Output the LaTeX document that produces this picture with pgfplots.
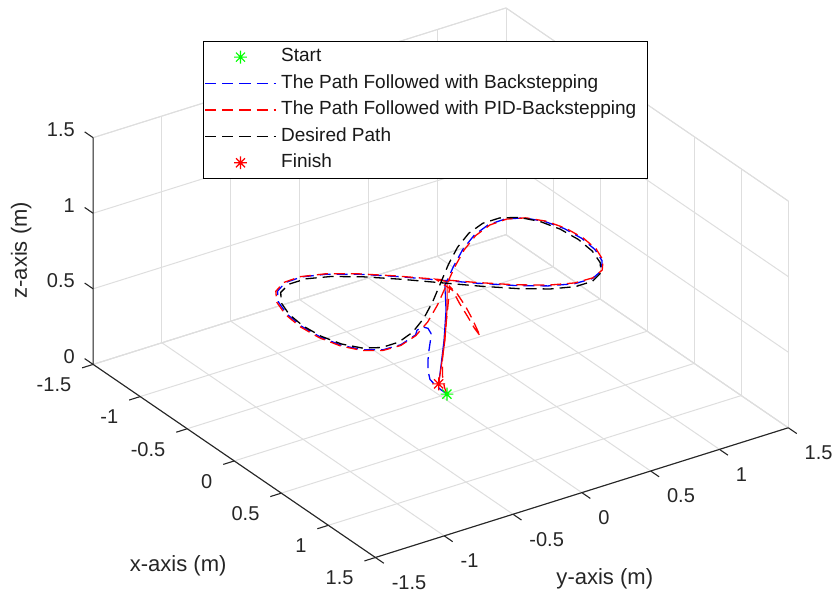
\documentclass[border=0pt]{standalone}
\usepackage{fontspec}
\setmainfont{Liberation Sans}
\usepackage{pgfplots}
\pgfplotsset{compat=1.18}
\usepackage{pgfplotstable}

\tikzset{
  tl/.style={font=\fontsize{10}{12}\selectfont, text=black!85, inner sep=0pt},
  al/.style={font=\fontsize{11}{13}\selectfont, text=black!85, inner sep=0pt},
  tk/.style={draw=black!85, line width=0.55pt},
  bsline/.style={draw=blue, color=blue, dash pattern=on 5.5pt off 3pt, line width=0.65pt},
  pidline/.style={draw=red, color=red, dash pattern=on 5.5pt off 3pt, line width=0.65pt},
  desline/.style={draw=black, color=black, dash pattern=on 5.5pt off 3pt, line width=0.65pt},
}

\pgfdeclareplotmark{mstar}{%
  \pgfpathmoveto{\pgfqpoint{-\pgfplotmarksize}{0pt}}%
  \pgfpathlineto{\pgfqpoint{\pgfplotmarksize}{0pt}}%
  \pgfpathmoveto{\pgfqpoint{0pt}{-\pgfplotmarksize}}%
  \pgfpathlineto{\pgfqpoint{0pt}{\pgfplotmarksize}}%
  \pgfpathmoveto{\pgfqpoint{-0.7071\pgfplotmarksize}{-0.7071\pgfplotmarksize}}%
  \pgfpathlineto{\pgfqpoint{0.7071\pgfplotmarksize}{0.7071\pgfplotmarksize}}%
  \pgfpathmoveto{\pgfqpoint{-0.7071\pgfplotmarksize}{0.7071\pgfplotmarksize}}%
  \pgfpathlineto{\pgfqpoint{0.7071\pgfplotmarksize}{-0.7071\pgfplotmarksize}}%
  \pgfusepathqstroke}

% Backstepping path (takeoff + lap)
\pgfplotstableread{
x y z
0 0.045 0
-0.024 0.0146 0.03
-0.049 -0.0119 0.06
-0.053 -0.0419 0.1
-0.043 -0.0633 0.17
-0.053 -0.0565 0.23
-0.0436 -0.0556 0.3
-0.0486 -0.0413 0.36
-0.041 -0.0428 0.41
0.0404 -0.1204 0.5
0.167 -0.2469 0.6
0.3468 -0.4098 0.7
0.4720 -0.5050 0.75
0.5269 -0.6490 0.75
0.5213 -0.7735 0.75
0.4555 -0.8745 0.75
0.3368 -0.9490 0.75
0.1788 -0.9945 0.75
0 -1.010 0.75
-0.1788 -0.9945 0.75
-0.3368 -0.9490 0.75
-0.4555 -0.8745 0.75
-0.5213 -0.7735 0.75
-0.5269 -0.6490 0.75
-0.4720 -0.5050 0.75
-0.3637 -0.3455 0.75
-0.2153 -0.1753 0.75
-0.045 0 0.75
0.1267 0.1779 0.75
0.2791 0.3506 0.75
0.3940 0.5125 0.75
0.4579 0.6589 0.75
0.4635 0.7852 0.75
0.4105 0.8877 0.75
0.3060 0.9632 0.75
0.1632 1.0094 0.75
0 1.025 0.75
-0.1632 1.0094 0.75
-0.3060 0.9632 0.75
-0.4105 0.8877 0.75
-0.4635 0.7852 0.75
-0.4579 0.6589 0.75
-0.3940 0.5125 0.75
-0.2791 0.3506 0.75
-0.1267 0.1779 0.75
0.045 0 0.75
}\bsdata
\pgfplotstableread{
x y z
0.045 0 0.75
-0.0107 0.0455 0.55
-0.0195 0.037 0.35
-0.0206 0.0159 0.19
0 -0.015 0.085
}\bsland

% PID-Backstepping path (takeoff + hook + lap)
\pgfplotstableread{
x y z
0 0.045 0
-0.0158 0.038 0.04
-0.0216 0.0275 0.12
-0.0097 0.0194 0.24
-0.0017 0.0285 0.36
0.0011 0.041 0.49
0.0038 0.0538 0.62
0.0027 0.0618 0.71
0.1307 0.0325 0.72
0.2534 0.0068 0.7
0.3834 -0.0312 0.68
0.485 -0.0643 0.66
0.559 -0.093 0.66
0.502 -0.0977 0.69
0.3667 -0.0561 0.7
0.2335 -0.0233 0.72
0.1037 0.0145 0.74
-0.055 0 0.75
0.1168 0.1797 0.75
0.2697 0.3540 0.75
0.3854 0.5175 0.75
0.4503 0.6653 0.75
0.4570 0.7928 0.75
0.4055 0.8963 0.75
0.3026 0.9726 0.75
0.1615 1.0193 0.75
0 1.035 0.75
-0.1615 1.0193 0.75
-0.3026 0.9726 0.75
-0.4055 0.8963 0.75
-0.4570 0.7928 0.75
-0.4503 0.6653 0.75
-0.3854 0.5175 0.75
-0.2697 0.3540 0.75
-0.1168 0.1797 0.75
0.055 0 0.75
0.2252 -0.1770 0.75
0.3731 -0.3489 0.75
0.4806 -0.5100 0.75
0.5345 -0.6557 0.75
0.5278 -0.7813 0.75
0.4605 -0.8833 0.75
0.3402 -0.9585 0.75
0.1805 -1.0045 0.75
0 -1.020 0.75
-0.1805 -1.0045 0.75
-0.3402 -0.9585 0.75
-0.4605 -0.8833 0.75
-0.5278 -0.7813 0.75
-0.5345 -0.6557 0.75
-0.4806 -0.5100 0.75
-0.3731 -0.3489 0.75
-0.2252 -0.1770 0.75
-0.055 0 0.75
0.01 0.04 0.75
}\piddata
\pgfplotstableread{
x y z
0.01 0.04 0.75
-0.0073 0.0505 0.55
-0.0161 0.042 0.35
-0.0189 0.0184 0.19
0 -0.015 0.085
}\pidland

% Desired path
\pgfplotstableread{
x y z
0 0 0.75
0.1710 0.1736 0.75
0.3214 0.3420 0.75
0.4330 0.5 0.75
0.4924 0.6428 0.75
0.4924 0.7660 0.75
0.4330 0.8660 0.75
0.3214 0.9397 0.75
0.1710 0.9848 0.75
0 1 0.75
-0.1710 0.9848 0.75
-0.3214 0.9397 0.75
-0.4330 0.8660 0.75
-0.4924 0.7660 0.75
-0.4924 0.6428 0.75
-0.4330 0.5 0.75
-0.3214 0.3420 0.75
-0.1710 0.1736 0.75
0 0 0.75
0.1710 -0.1736 0.75
0.3214 -0.3420 0.75
0.4330 -0.5 0.75
0.4924 -0.6428 0.75
0.4924 -0.7660 0.75
0.4330 -0.8660 0.75
0.3214 -0.9397 0.75
0.1710 -0.9848 0.75
0 -1 0.75
-0.1710 -0.9848 0.75
-0.3214 -0.9397 0.75
-0.4330 -0.8660 0.75
-0.4924 -0.7660 0.75
-0.4924 -0.6428 0.75
-0.4330 -0.5 0.75
-0.3214 -0.3420 0.75
-0.1710 -0.1736 0.75
0 0 0.75
}\desdata

\begin{document}
\begin{tikzpicture}
\begin{axis}[
  x={(47pt,-32.15pt)}, y={(68.75pt,21.6pt)}, z={(0pt,75.5pt)},
  xmin=-1.5, xmax=1.5, ymin=-1.5, ymax=1.5, zmin=0, zmax=1.5,
  xtick={-1.5,-1,-0.5,0,0.5,1,1.5},
  ytick={-1.5,-1,-0.5,0,0.5,1,1.5},
  ztick={0,0.5,1,1.5},
  xticklabels={}, yticklabels={}, zticklabels={},
  clip=false,
  grid=major,
  major grid style={black!13, line width=0.5pt},
  axis line style={black!13, line width=0.5pt},
  tick style={draw=none},
  legend cell align=left,
  legend image code/.code={\draw[mark repeat=2,mark phase=2,#1] plot coordinates {(0pt,0pt) (17.5pt,0pt) (35pt,0pt)};},
  legend style={at={(0.1585,0.94)}, anchor=north west, draw, line width=0.5pt,
    fill=white, font=\fontsize{9.5}{11}\selectfont,
    inner xsep=0.5pt, inner ysep=3.15pt, row sep=3.8pt,
    nodes={inner sep=0pt, text height=7pt, text depth=2.4pt, text=black!90},
    /tikz/every odd column/.append style={column sep=2.5pt}},
]
% axis lines
\draw[tk] (axis cs:-1.5,-1.5,1.5) -- (axis cs:-1.5,-1.5,0) -- (axis cs:1.5,-1.5,0) -- (axis cs:1.5,1.5,0);
% x ticks
\draw[tk] (axis cs:-1.5,-1.5,0) -- (axis cs:-1.5,-1.58,0);
\draw[tk] (axis cs:-1,-1.5,0) -- (axis cs:-1,-1.58,0);
\draw[tk] (axis cs:-0.5,-1.5,0) -- (axis cs:-0.5,-1.58,0);
\draw[tk] (axis cs:0,-1.5,0) -- (axis cs:0,-1.58,0);
\draw[tk] (axis cs:0.5,-1.5,0) -- (axis cs:0.5,-1.58,0);
\draw[tk] (axis cs:1,-1.5,0) -- (axis cs:1,-1.58,0);
\draw[tk] (axis cs:1.5,-1.5,0) -- (axis cs:1.5,-1.58,0);
% y ticks
\draw[tk] (axis cs:1.5,-1.5,0) -- (axis cs:1.59,-1.5,0);
\draw[tk] (axis cs:1.5,-1,0) -- (axis cs:1.59,-1,0);
\draw[tk] (axis cs:1.5,-0.5,0) -- (axis cs:1.59,-0.5,0);
\draw[tk] (axis cs:1.5,0,0) -- (axis cs:1.59,0,0);
\draw[tk] (axis cs:1.5,0.5,0) -- (axis cs:1.59,0.5,0);
\draw[tk] (axis cs:1.5,1,0) -- (axis cs:1.59,1,0);
\draw[tk] (axis cs:1.5,1.5,0) -- (axis cs:1.59,1.5,0);
% z ticks
\draw[tk] (axis cs:-1.5,-1.5,0) -- (axis cs:-1.59,-1.5,0);
\draw[tk] (axis cs:-1.5,-1.5,0.5) -- (axis cs:-1.59,-1.5,0.5);
\draw[tk] (axis cs:-1.5,-1.5,1) -- (axis cs:-1.59,-1.5,1);
\draw[tk] (axis cs:-1.5,-1.5,1.5) -- (axis cs:-1.59,-1.5,1.5);
% x tick labels
\node[tl, anchor=east, xshift=-10.75pt, yshift=-10.25pt] at (axis cs:-1.5,-1.5,0) {-1.5};
\node[tl, anchor=east, xshift=-10.75pt, yshift=-10.25pt] at (axis cs:-1,-1.5,0) {-1};
\node[tl, anchor=east, xshift=-10.75pt, yshift=-10.25pt] at (axis cs:-0.5,-1.5,0) {-0.5};
\node[tl, anchor=east, xshift=-10.75pt, yshift=-10.25pt] at (axis cs:0,-1.5,0) {0};
\node[tl, anchor=east, xshift=-10.75pt, yshift=-10.25pt] at (axis cs:0.5,-1.5,0) {0.5};
\node[tl, anchor=east, xshift=-10.75pt, yshift=-10.25pt] at (axis cs:1,-1.5,0) {1};
\node[tl, anchor=east, xshift=-10.75pt, yshift=-10.25pt] at (axis cs:1.5,-1.5,0) {1.5};
% y tick labels
\node[tl, anchor=west, xshift=8pt, yshift=-12.5pt] at (axis cs:1.5,-1.5,0) {-1.5};
\node[tl, anchor=west, xshift=8pt, yshift=-12.5pt] at (axis cs:1.5,-1,0) {-1};
\node[tl, anchor=west, xshift=8pt, yshift=-12.5pt] at (axis cs:1.5,-0.5,0) {-0.5};
\node[tl, anchor=west, xshift=8pt, yshift=-12.5pt] at (axis cs:1.5,0,0) {0};
\node[tl, anchor=west, xshift=8pt, yshift=-12.5pt] at (axis cs:1.5,0.5,0) {0.5};
\node[tl, anchor=west, xshift=8pt, yshift=-12.5pt] at (axis cs:1.5,1,0) {1};
\node[tl, anchor=west, xshift=8pt, yshift=-12.5pt] at (axis cs:1.5,1.5,0) {1.5};
% z tick labels
\node[tl, anchor=east, xshift=-9pt, yshift=4pt] at (axis cs:-1.5,-1.5,0) {0};
\node[tl, anchor=east, xshift=-9pt, yshift=4pt] at (axis cs:-1.5,-1.5,0.5) {0.5};
\node[tl, anchor=east, xshift=-9pt, yshift=4pt] at (axis cs:-1.5,-1.5,1) {1};
\node[tl, anchor=east, xshift=-9pt, yshift=4pt] at (axis cs:-1.5,-1.5,1.5) {1.5};
% axis labels
\node[al] at (axis cs:0.925,-2.54,0) {x-axis (m)};
\node[al] at (axis cs:2.49,-0.51,0) {y-axis (m)};
\node[al, rotate=90] at (axis cs:-2.266,-1.5,0.429) {z-axis (m)};
\coordinate (bbA) at (axis cs:0.639,-3.639,0);
\coordinate (bbB) at (axis cs:-2.888,4.861,0);

\addplot3[forget plot, only marks, mark=mstar, mark size=3.2pt, color=green, mark options={line width=0.6pt, solid}] coordinates {(0,0.045,0)};
\addplot3[forget plot, bsline, mark=none] table[x=x,y=y,z=z] {\bsdata};
\addplot3[forget plot, color=blue, draw=blue, solid, line width=0.55pt, mark=none] table[x=x,y=y,z=z] {\bsland};
\addplot3[forget plot, pidline, mark=none] table[x=x,y=y,z=z] {\piddata};
\addplot3[forget plot, color=red, draw=red, solid, line width=0.55pt, mark=none] table[x=x,y=y,z=z] {\pidland};
\addplot3[forget plot, desline, mark=none] table[x=x,y=y,z=z] {\desdata};
\addplot3[forget plot, only marks, mark=mstar, mark size=3.2pt, color=red, mark options={line width=0.6pt, solid}] coordinates {(0,-0.015,0.085)};

\addlegendimage{only marks, mark=mstar, mark size=3.2pt, color=green, mark options={line width=0.6pt, solid}}
\addlegendentry{Start}
\addlegendimage{bsline}
\addlegendentry{The Path Followed with Backstepping}
\addlegendimage{pidline}
\addlegendentry{The Path Followed with PID-Backstepping\rule{5pt}{0pt}}
\addlegendimage{desline}
\addlegendentry{Desired Path}
\addlegendimage{only marks, mark=mstar, mark size=3.2pt, color=red, mark options={line width=0.6pt, solid}}
\addlegendentry{Finish}
\end{axis}
\pgfresetboundingbox
\useasboundingbox (bbA) rectangle (bbB);
\end{tikzpicture}
\end{document}
